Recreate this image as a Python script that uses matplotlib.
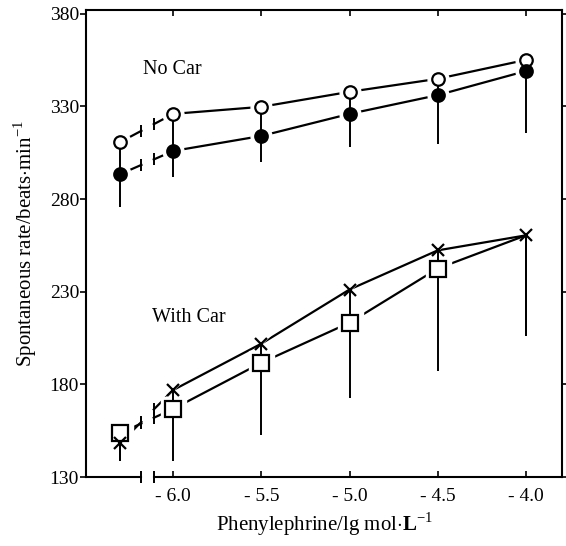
import matplotlib.pyplot as plt
import numpy as np

plt.rcParams['font.family'] = ['Liberation Serif', 'DejaVu Serif']
plt.rcParams['mathtext.fontset'] = 'custom'
plt.rcParams['mathtext.rm'] = 'Liberation Serif'
plt.rcParams['mathtext.bf'] = 'Liberation Serif:bold'

# x positions (lg mol/L); first point is the control, drawn left of the axis break
x = [-6.3, -6.0, -5.5, -5.0, -4.5, -4.0]

# No Car
open_circ = [310.7, 325.9, 329.7, 337.8, 344.8, 355.0]
open_low = [293.4, 305.9, 314.0, 325.9, 336.0, 349.0]
fill_circ = [293.4, 305.9, 314.0, 325.9, 336.0, 349.0]
fill_low = [275.6, 291.8, 299.9, 308.0, 309.6, 315.6]

# With Car
cross = [148.4, 177.0, 202.0, 231.2, 252.3, 260.4]
cross_low = [138.7, 166.8, 191.7, 213.3, 242.5, 206.3]
square = [153.8, 166.8, 191.7, 213.3, 242.5, 260.4]
square_low = [138.7, 138.7, 153.0, 172.7, 187.4, 206.3]

xticks = [-6.0, -5.5, -5.0, -4.5, -4.0]
xticklabels = ["- 6.0", "- 5.5", "- 5.0", "- 4.5", "- 4.0"]
yticks = [130, 180, 230, 280, 330, 380]

brk = (-6.18, -6.11)

fig = plt.figure(figsize=(5.66, 5.46), dpi=100)
ax = fig.add_axes([0.152, 0.126, 0.841, 0.856])


def series(y, low, marker, ms, face, mark_idx=None):
    y = np.array(y)
    xs = np.array(x)
    y0 = np.interp(brk[0], xs[:2], y[:2])
    y1 = np.interp(brk[1], xs[:2], y[:2])
    ax.plot([xs[0], brk[0]], [y[0], y0], color='black', lw=1.6, zorder=2)
    ax.plot([brk[1]] + list(xs[1:]), [y1] + list(y[1:]), color='black', lw=1.6, zorder=2)
    ax.plot([brk[0], brk[1]], [y0, y1], ls='none', marker='|', ms=8, mew=1.4,
            color='black', zorder=2)
    idx = list(range(len(xs))) if mark_idx is None else mark_idx
    ax.plot(xs[idx], y[idx], ls='none', marker=marker, ms=ms + 6, mfc='white',
            mec='white', mew=1, zorder=3)
    ax.vlines(xs, low, y, color='black', lw=1.4, zorder=4)
    ax.plot(xs[idx], y[idx], ls='none', marker=marker, ms=ms, mfc=face,
            mec='black', mew=1.6, zorder=5)


series(open_circ, open_low, 'o', 9, 'white')
series(fill_circ, fill_low, 'o', 9, 'black')
series(square, square_low, 's', 12, 'white', mark_idx=[0, 1, 2, 3, 4])
series(cross, cross_low, 'x', 8, 'black')

ax.set_xlim(-6.494, -3.795)
ax.set_ylim(130, 382)
ax.set_xticks(xticks)
ax.set_xticklabels(xticklabels)
ax.set_yticks(yticks)

ax.tick_params(axis='y', direction='out', length=4, width=1.2, labelsize=14, pad=1,
               right=True)
ax.tick_params(axis='x', direction='in', length=4, width=1.2, labelsize=14, pad=8,
               top=True)
for s in ax.spines.values():
    s.set_linewidth(1.5)

# axis break on the bottom spine
ax.spines['bottom'].set_visible(False)
tr = ax.get_xaxis_transform()
ax.plot([-6.494, brk[0]], [0, 0], color='black', lw=1.5, transform=tr, clip_on=False)
ax.plot([brk[1], -3.795], [0, 0], color='black', lw=1.5, transform=tr, clip_on=False)
ax.plot(brk, [0, 0], ls='none', marker='|', ms=9, mew=1.4, color='black',
        transform=tr, clip_on=False)

ax.text(-6.17, 350, "No Car", fontsize=14.5, va='center')
ax.text(-6.12, 216, "With Car", fontsize=14.5, va='center')

ax.set_ylabel(r"Spontaneous rate/beats$\cdot$min$^{-1}$", fontsize=15, labelpad=8)
ax.set_xlabel(r"Phenylephrine/lg mol$\cdot\mathbf{L}^{-1}$", fontsize=15, labelpad=4)

fig.savefig("out.png", dpi=100)
